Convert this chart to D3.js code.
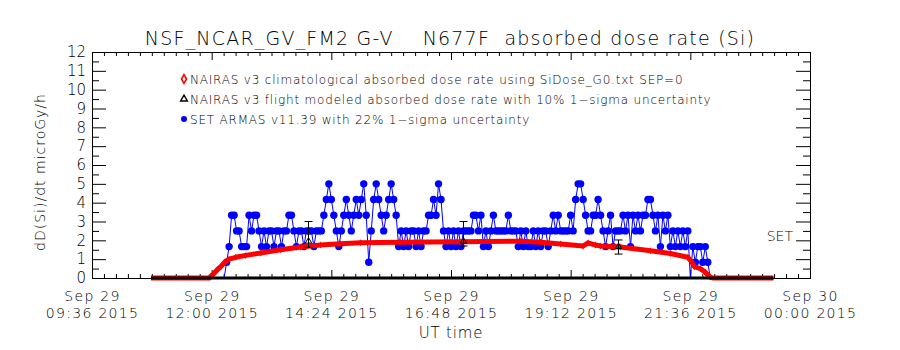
<!DOCTYPE html>
<html>
<head>
<meta charset="utf-8">
<script src="https://cdn.jsdelivr.net/npm/d3@7"></script>
<style>
  body { margin: 0; background: #fff; }
  svg { display: block; font-family: 'DejaVu Sans', sans-serif; font-weight: 200; }
</style>
</head>
<body>
<div id="chart"></div>
<script>
// Data
const titleText = 'NSF_NCAR_GV_FM2 G-V    N677F  absorbed dose rate (Si)';
const yLabel = 'dD(Si)/dt microGy/h';
const xLabel = 'UT time';
const legendLabels = [
  'NAIRAS v3 climatological absorbed dose rate using SiDose_G0.txt SEP=0',
  'NAIRAS v3 flight modeled absorbed dose rate with 10% 1\u2212sigma uncertainty',
  'SET ARMAS v11.39 with 22% 1\u2212sigma uncertainty',
];
const xMajorTicks = ['2015-09-29 09:36', '2015-09-29 12:00', '2015-09-29 14:24', '2015-09-29 16:48',
  '2015-09-29 19:12', '2015-09-29 21:36', '2015-09-30 00:00'];
const yTicks = [0, 1, 2, 3, 4, 5, 6, 7, 8, 9, 10, 11, 12];

// NAIRAS climatological (red)
const climTimes = ['10:47', '11:57', '11:59', '12:03', '12:07', '12:11', '12:16', '12:21', '12:29', '12:41',
  '12:59', '13:23', '13:47', '14:11', '14:35', '14:59', '15:47', '16:59', '18:12', '18:36', '19:00',
  '19:27', '19:33', '19:42', '19:48', '20:12', '20:48', '21:12', '21:33', '21:37', '21:41', '21:48',
  '21:54', '22:00', '22:03', '23:16'];
const climDose = [0, 0, 0.1, 0.25, 0.45, 0.6, 0.85, 1.0, 1.1, 1.2,
  1.33, 1.5, 1.65, 1.75, 1.82, 1.87, 1.9, 1.93, 1.95, 1.9, 1.8,
  1.7, 1.87, 1.75, 1.7, 1.65, 1.45, 1.3, 1.1, 0.9, 0.6, 0.5,
  0.3, 0.05, 0, 0];

// NAIRAS flight modeled (black)
const flightTrackTimes = ['10:47', '23:16'];
const flightTrackDose = [0, 0];
const flightTimes = ['13:56', '17:02', '20:09'];
const flightDose = [1.95, 1.95, 1.66];
const flightLo = [1.63, 1.7, 1.27];
const flightHi = [3.0, 3.0, 2.02];

// SET ARMAS (blue), one sample every 3 min starting 12:15, in dose counts
const setStart = '12:15';
const setStepMin = 3;
const setDosePerCount = 5 / 6;
const setCounts = [
  0, 1, 2, 4, 4, 3, 3, 2, 2, 2,
  4, 3, 4, 4, 3, 2, 3, 2, 3, 3,
  2, 3, 3, 2, 3, 3, 4, 4, 3, 2,
  3, 3, 2, 3, 3, 3, 2, 3, 3, 3,
  4, 5, 6, 5, 4, 3, 2, 3, 4, 5,
  4, 3, 4, 5, 4, 5, 6, 4, 1, 3,
  5, 6, 5, 4, 3, 4, 5, 6, 5, 4,
  2, 3, 2, 3, 2, 3, 3, 2, 3, 2,
  3, 3, 4, 4, 5, 4, 6, 5, 3, 2,
  3, 2, 3, 2, 3, 2, 3, 3, 3, 3,
  4, 4, 3, 4, 2, 3, 2, 3, 4, 3,
  3, 3, 3, 3, 4, 3, 3, 3, 2, 3,
  2, 3, 2, 2, 3, 2, 3, 2, 3, 3,
  2, 3, 4, 3, 4, 3, 3, 3, 3, 4,
  3, 5, 6, 6, 5, 4, 3, 3, 4, 4,
  5, 4, 3, 2, 3, 4, 2, 3, 3, 3,
  4, 3, 4, 2, 4, 3, 4, 3, 4, 4,
  5, 5, 4, 3, 4, 2, 4, 3, 4, 2,
  3, 2, 3, 2, 3, 2, 3, 0, 2, 1,
  2, 2, 1, 2, 1, 0,
];

const parseFull = d3.utcParse('%Y-%m-%d %H:%M');
const at = (hm) => parseFull('2015-09-29 ' + hm);

const clim = climTimes.map((t, i) => ({ t: at(t), v: climDose[i] }));
const track = flightTrackTimes.map((t, i) => ({ t: at(t), v: flightTrackDose[i] }));
const flight = flightTimes.map((t, i) => ({ t: at(t), v: flightDose[i], lo: flightLo[i], hi: flightHi[i] }));
const set0 = at(setStart);
const setData = setCounts.map((c, i) => ({ t: d3.utcMinute.offset(set0, i * setStepMin), v: c * setDosePerCount }));

// Layout
const margin = { l: 92, r: 90, t: 52, b: 72 };
const width = 900 - margin.l - margin.r;
const height = 350 - margin.t - margin.b;

const majors = xMajorTicks.map(parseFull);
const xScale = d3.scaleUtc([majors[0], majors[majors.length - 1]], [0, width]);
const yScale = d3.scaleLinear([0, 12], [height, 0]);

const minors = [];
for (let i = 0; i < majors.length - 1; i++) {
  const step = (majors[i + 1] - majors[i]) / 10;
  for (let k = 1; k < 10; k++) minors.push(new Date(+majors[i] + k * step));
}
const yMinor = yTicks.slice(0, -1).map((d) => d + 0.5);

const root = d3.select('#chart').append('svg').attr('width', 900).attr('height', 350);
root.append('rect').attr('width', 900).attr('height', 350).attr('fill', '#fff');

// title
root.append('text')
  .attr('x', 450).attr('y', 45)
  .attr('text-anchor', 'middle')
  .attr('font-size', 19)
  .attr('letter-spacing', 1.2)
  .style('white-space', 'pre')
  .text(titleText);

const svg = root.append('g').attr('transform', `translate(${margin.l}, ${margin.t})`);

const styleAxis = (g) => {
  g.select('.domain').remove();
  g.attr('font-family', null).attr('font-size', null);
  g.selectAll('line').attr('stroke', '#000');
  g.selectAll('text').attr('fill', '#000');
};

// bottom axis with two-line labels
const fmtDay = d3.utcFormat('%b %d');
const fmtTime = d3.utcFormat('%H:%M %Y');
svg.append('g')
  .attr('transform', `translate(0, ${height})`)
  .call(d3.axisBottom(xScale).tickValues(majors).tickSize(-8).tickSizeOuter(0))
  .call(styleAxis)
  .call((g) => g.selectAll('.tick text').each(function (d) {
    const t = d3.select(this).text(null).attr('y', null).attr('dy', null)
      .attr('font-size', 14).attr('letter-spacing', 1.3);
    t.append('tspan').attr('x', 0).attr('y', 23).text(fmtDay(d));
    t.append('tspan').attr('x', 0).attr('y', 40).text(fmtTime(d));
  }));
svg.append('g')
  .attr('transform', `translate(0, ${height})`)
  .call(d3.axisBottom(xScale).tickValues(minors).tickSize(-4).tickSizeOuter(0).tickFormat(''))
  .call(styleAxis);

// top axis
svg.append('g')
  .call(d3.axisBottom(xScale).tickValues(majors).tickSize(8).tickSizeOuter(0).tickFormat(''))
  .call(styleAxis);
svg.append('g')
  .call(d3.axisBottom(xScale).tickValues(minors).tickSize(4).tickSizeOuter(0).tickFormat(''))
  .call(styleAxis);

// left axis
svg.append('g')
  .call(d3.axisLeft(yScale).tickValues(yTicks).tickSize(-14).tickPadding(6).tickSizeOuter(0).tickFormat(d3.format('d')))
  .call(styleAxis)
  .call((g) => g.selectAll('text').attr('font-size', 15));
svg.append('g')
  .call(d3.axisLeft(yScale).tickValues(yMinor).tickSize(-7).tickSizeOuter(0).tickFormat(''))
  .call(styleAxis);

// right axis
svg.append('g')
  .attr('transform', `translate(${width}, 0)`)
  .call(d3.axisRight(yScale).tickValues(yTicks).tickSize(-14).tickSizeOuter(0).tickFormat(''))
  .call(styleAxis);
svg.append('g')
  .attr('transform', `translate(${width}, 0)`)
  .call(d3.axisRight(yScale).tickValues(yMinor).tickSize(-7).tickSizeOuter(0).tickFormat(''))
  .call(styleAxis);
svg.append('text')
  .attr('x', width - 17).attr('y', yScale(2) + 1)
  .attr('text-anchor', 'end')
  .attr('font-size', 14)
  .text('SET');

// frame
svg.append('rect')
  .attr('x', 0.5).attr('y', 0.5)
  .attr('width', width).attr('height', height)
  .attr('fill', 'none').attr('stroke', '#000');

// axis names
svg.append('text')
  .attr('transform', `translate(${45 - margin.l}, ${height / 2 + 7}) rotate(-90)`)
  .attr('text-anchor', 'middle')
  .attr('font-size', 14)
  .attr('letter-spacing', 1)
  .text(yLabel);
svg.append('text')
  .attr('x', xScale(parseFull('2015-09-29 16:48'))).attr('y', height + 60)
  .attr('text-anchor', 'middle')
  .attr('font-size', 15)
  .attr('letter-spacing', 0.8)
  .text(xLabel);

const line = d3.line().x((d) => xScale(d.t)).y((d) => yScale(d.v));

// SET ARMAS
svg.append('path')
  .datum(setData)
  .attr('d', line)
  .attr('fill', 'none')
  .attr('stroke', '#0000ff')
  .attr('stroke-width', 1);
svg.selectAll('setPoints')
  .data(setData.filter((d) => d.v > 0))
  .join('circle')
  .attr('cx', (d) => xScale(d.t))
  .attr('cy', (d) => yScale(d.v))
  .attr('r', 3.7)
  .attr('fill', '#0000ff');

// NAIRAS climatological
svg.append('path')
  .datum(clim)
  .attr('d', line)
  .attr('fill', 'none')
  .attr('stroke', '#ff0000')
  .attr('stroke-width', 5)
  .attr('stroke-linejoin', 'round');
const diamond = d3.symbol(d3.symbolDiamond, 14);
svg.selectAll('climPoints')
  .data(clim.filter((d) => d.v > 0))
  .join('path')
  .attr('transform', (d) => `translate(${xScale(d.t)}, ${yScale(d.v)})`)
  .attr('d', diamond)
  .attr('fill', '#ff0000');

// NAIRAS flight modeled
svg.append('path')
  .datum(track)
  .attr('d', line)
  .attr('fill', 'none')
  .attr('stroke', '#000')
  .attr('stroke-width', 3);
const eb = svg.selectAll('flightBars').data(flight).join('g')
  .attr('transform', (d) => `translate(${Math.round(xScale(d.t)) + 0.5}, 0)`)
  .attr('stroke', '#000')
  .attr('fill', 'none');
eb.append('line').attr('y1', (d) => yScale(d.lo)).attr('y2', (d) => yScale(d.hi));
eb.append('line').attr('x1', -4).attr('x2', 4).attr('y1', (d) => yScale(d.lo)).attr('y2', (d) => yScale(d.lo));
eb.append('line').attr('x1', -4).attr('x2', 4).attr('y1', (d) => yScale(d.hi)).attr('y2', (d) => yScale(d.hi));
eb.append('path')
  .attr('transform', (d) => `translate(0, ${yScale(d.v)})`)
  .attr('d', d3.symbol(d3.symbolTriangle, 18));

// legend
const legend = svg.append('g').attr('transform', `translate(${184 - margin.l}, ${79 - margin.t})`);
const rowH = 20;
legend.append('path').attr('d', d3.symbol(d3.symbolDiamond, 22))
  .attr('fill', '#fff').attr('stroke', '#ff0000').attr('stroke-width', 1.6);
legend.append('path').attr('transform', `translate(0, ${rowH})`).attr('d', d3.symbol(d3.symbolTriangle, 20))
  .attr('fill', '#fff').attr('stroke', '#000').attr('stroke-width', 1.4);
legend.append('circle').attr('cy', rowH * 2).attr('r', 3).attr('fill', '#0000ff');
legend.selectAll('text')
  .data(legendLabels)
  .join('text')
  .attr('x', 6)
  .attr('y', (d, i) => i * rowH + 4.5)
  .attr('font-size', 12)
  .attr('letter-spacing', 0.8)
  .text((d) => d);
</script>
</body>
</html>
